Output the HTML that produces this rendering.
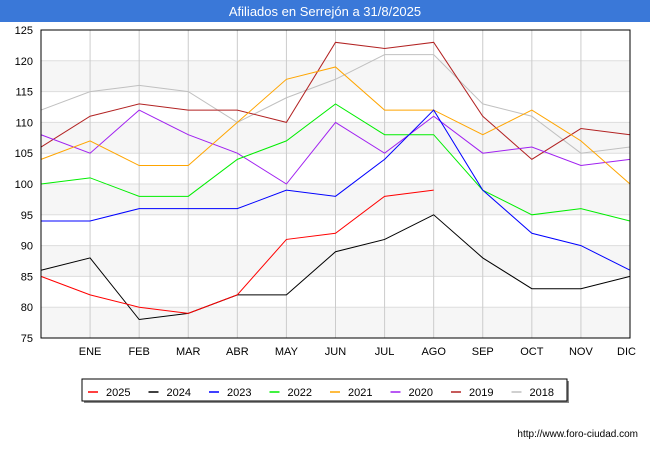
<!DOCTYPE html>
<html><head><meta charset="utf-8"><style>
body{margin:0;background:#fff;font-family:"Liberation Sans",sans-serif}
</style></head><body>
<svg id="c" width="650" height="450" xmlns="http://www.w3.org/2000/svg">
<rect x="0" y="0" width="650" height="22" fill="#3a78d8"/>
<text x="325" y="16" text-anchor="middle" fill="#fff" font-size="13">Afiliados en Serrejón a 31/8/2025</text>
<g id="plot"></g>
<text x="638" y="437" text-anchor="end" font-size="10" fill="#000">http://www.foro-ciudad.com</text>
</svg>
<script>
const months=["","ENE","FEB","MAR","ABR","MAY","JUN","JUL","AGO","SEP","OCT","NOV","DIC"];
const yTicks=[75,80,85,90,95,100,105,110,115,120,125];
const seriesNames=["2025","2024","2023","2022","2021","2020","2019","2018"];
const seriesColors=["#ff0000","#000000","#0000ff","#00ee00","#ffa500","#a020f0","#b22222","#c0c0c0"];
const s2025=[85,82,80,79,82,91,92,98,99];
const s2024=[86,88,78,79,82,82,89,91,95,88,83,83,85];
const s2023=[94,94,96,96,96,99,98,104,112,99,92,90,86];
const s2022=[100,101,98,98,104,107,113,108,108,99,95,96,94];
const s2021=[104,107,103,103,110,117,119,112,112,108,112,107,100];
const s2020=[108,105,112,108,105,100,110,105,111,105,106,103,104];
const s2019=[106,111,113,112,112,110,123,122,123,111,104,109,108];
const s2018=[112,115,116,115,110,114,117,121,121,113,111,105,106];
const allSeries=[s2025,s2024,s2023,s2022,s2021,s2020,s2019,s2018];

const NS="http://www.w3.org/2000/svg";
const L=41,R=630,T=30,B=338,ymin=75,ymax=125;
const x=i=>L+i*(R-L)/12;
const y=v=>B-(v-ymin)*(B-T)/(ymax-ymin);
const g=document.getElementById('plot');
function mk(tag,attrs,parent){const e=document.createElementNS(NS,tag);for(const k in attrs)e.setAttribute(k,attrs[k]);(parent||g).appendChild(e);return e;}
// bands
for(let v=75;v<125;v+=10){
 const r=mk('rect',{x:L,y:y(v+5),width:R-L,height:y(v)-y(v+5),fill:'#f6f6f6'});
 
 
}
yTicks.forEach(v=>{
 const l=mk('line',{x1:L,x2:R,y1:y(v),y2:y(v),stroke:'#dddddd','stroke-width':1});
 
 
 const t=mk('text',{x:L-8,y:y(v)+4,'text-anchor':'end','font-size':11});
 t.textContent=v;
 
 
});
months.forEach((m,i)=>{
 if(i>0){const l=mk('line',{x1:x(i),x2:x(i),y1:T,y2:B,stroke:'#cccccc','stroke-width':1});
 
 }
 if(m){const t=mk('text',{x:x(i),y:B+17,'text-anchor':i==12?'end':'middle','font-size':11});
 if(i==12)t.setAttribute('x',R+6);
 t.textContent=m;
 
 }
});
for(let k=allSeries.length-1;k>=0;k--){
 const pts=allSeries[k].map((v,i)=>x(i)+','+y(v)).join(' ');
 const p=mk('polyline',{points:pts,fill:'none',stroke:seriesColors[k],'stroke-width':1});
 
 
}
const fr=mk('rect',{x:L,y:T,width:R-L,height:B-T,fill:'none',stroke:'#000','stroke-width':1});


// legend
mk('rect',{x:84,y:381,width:485,height:22,fill:'#888'});
const lb=mk('rect',{x:82,y:379,width:485,height:22,fill:'#fff',stroke:'#000','stroke-width':1});


seriesNames.forEach((n,k)=>{
 const lx=88+k*60.5;
 const ln=mk('line',{x1:lx,x2:lx+10,y1:392,y2:392,stroke:seriesColors[k],'stroke-width':1.5});
 
 
 const t=mk('text',{x:lx+18,y:396,'font-size':11});
 t.textContent=n;
 
 
});
</script>
</body></html>
